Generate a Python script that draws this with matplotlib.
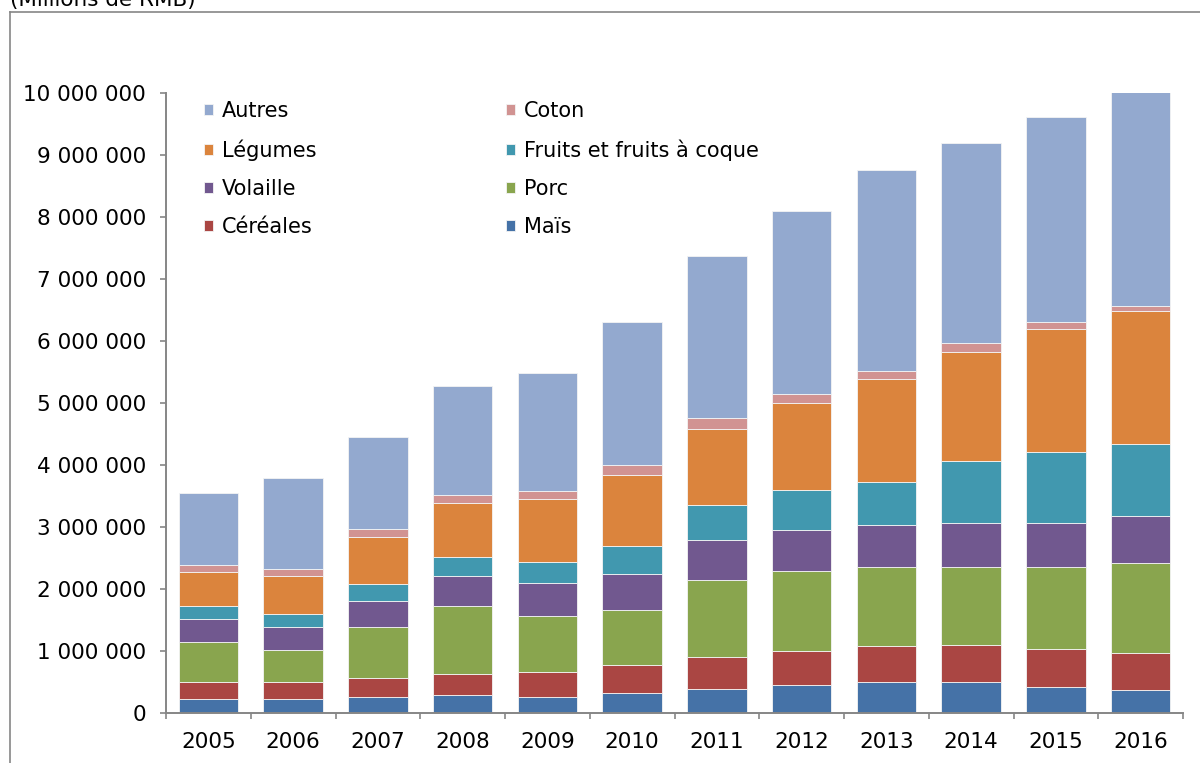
import numpy as np
import matplotlib
matplotlib.use("Agg")
import matplotlib.pyplot as plt
from matplotlib.ticker import FuncFormatter, FixedLocator

# Valeurs (millions de RMB)
years = ["2005", "2006", "2007", "2008", "2009", "2010",
         "2011", "2012", "2013", "2014", "2015", "2016"]

mais = [226000, 226000, 258000, 290000, 258000, 323000,
        387000, 452000, 494000, 494000, 413000, 379000]
cereales = [274000, 274000, 307000, 339000, 403000, 451000,
            516000, 548000, 586000, 606000, 622000, 589000]
porc = [645000, 516000, 822000, 1097000, 904000, 887000,
        1242000, 1290000, 1275000, 1255000, 1320000, 1452000]
volaille = [371000, 371000, 419000, 484000, 532000, 581000,
            645000, 662000, 685000, 710000, 710000, 754000]
fruits = [210000, 210000, 274000, 306000, 338000, 452000,
          565000, 645000, 686000, 1005000, 1140000, 1171000]
legumes = [548000, 613000, 759000, 871000, 1017000, 1145000,
           1225000, 1403000, 1654000, 1750000, 1990000, 2135000]
coton = [113000, 110000, 129000, 129000, 128000, 161000,
         178000, 145000, 136000, 140000, 105000, 90000]
autres = [1161000, 1470000, 1482000, 1758000, 1904000, 2306000,
          2612000, 2952000, 3234000, 3230000, 3308000, 3460000]

# ordre d'empilement, du bas vers le haut
series = [
    ("Maïs", mais, "#4572A7"),
    ("Céréales", cereales, "#AA4643"),
    ("Porc", porc, "#89A54E"),
    ("Volaille", volaille, "#71588F"),
    ("Fruits et fruits à coque", fruits, "#4198AF"),
    ("Légumes", legumes, "#DB843D"),
    ("Coton", coton, "#D19392"),
    ("Autres", autres, "#93A9CF"),
]

fig = plt.figure(figsize=(12, 7.63), dpi=100)
ax = fig.add_axes([166 / 1200, 1 - 713 / 763, (1183 - 166) / 1200, (713 - 93) / 763])

x = np.arange(len(years))
bottom = np.zeros(len(years))
handles = {}
for name, vals, color in series:
    vals = np.array(vals, dtype=float)
    b = ax.bar(x, vals, 0.70, bottom=bottom, color=color,
               edgecolor="#f4f4f4", linewidth=0.6, label=name)
    handles[name] = b
    bottom += vals

ax.set_xlim(-0.5, len(years) - 0.5)
ax.set_ylim(0, 10_000_000)
ax.set_yticks(np.arange(0, 10_000_001, 1_000_000))
ax.yaxis.set_major_formatter(FuncFormatter(lambda v, p: f"{int(v):,}".replace(",", " ")))

ax.set_xticks(x)
ax.set_xticklabels(years)
ax.xaxis.set_minor_locator(FixedLocator(np.arange(-0.5, len(years), 1.0)))

gray = "#868686"
for s in ["top", "right"]:
    ax.spines[s].set_visible(False)
for s in ["left", "bottom"]:
    ax.spines[s].set_color(gray)
    ax.spines[s].set_linewidth(1.4)

ax.tick_params(axis="y", direction="out", length=4.5, width=1.2, color=gray,
               labelsize=15.5, pad=10)
ax.tick_params(axis="x", which="major", length=0, labelsize=15.5, pad=13.5)
ax.tick_params(axis="x", which="minor", direction="out", length=4.5, width=1.2, color=gray)

# légende : deux colonnes, lignes Autres/Coton, Légumes/Fruits, ...
order = ["Autres", "Légumes", "Volaille", "Céréales",
         "Coton", "Fruits et fruits à coque", "Porc", "Maïs"]
leg = fig.legend([handles[n] for n in order], order, ncol=2, frameon=False,
                 loc="upper left", bbox_to_anchor=(204 / 1200, 1 - 101 / 763),
                 fontsize=15, handlelength=0.45, handleheight=0.45,
                 handletextpad=0.4, labelspacing=0.87, columnspacing=9.1,
                 borderpad=0, borderaxespad=0)

# cadre du graphique et titre de l'unité
fig.add_artist(plt.Line2D([10 / 1200, 1], [1 - 12 / 763, 1 - 12 / 763],
                          transform=fig.transFigure, color=gray, lw=1.2))
fig.add_artist(plt.Line2D([10 / 1200, 10 / 1200], [0, 1 - 12 / 763],
                          transform=fig.transFigure, color=gray, lw=1.2))
fig.text(10 / 1200, 1 - 6 / 763, "(Millions de RMB)", fontsize=15.5,
         ha="left", va="baseline")

fig.savefig("out.png", dpi=100)
